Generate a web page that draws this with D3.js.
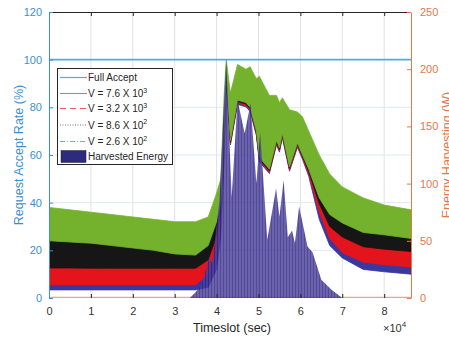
<!DOCTYPE html>
<html>
<head>
<meta charset="utf-8">
<script src="https://cdn.jsdelivr.net/npm/d3@7"></script>
<style>
  body { margin: 0; background: #fff; }
  svg text { font-family: "Liberation Sans", Arial, sans-serif; }
</style>
</head>
<body>
<div id="chart"></div>
<script>
// time grid (x 10^4 sec) shared by the four accept-rate bands
const slots = [0, 0.5, 1, 1.5, 2, 2.5, 3, 3.5, 3.8, 4.0, 4.1, 4.18, 4.23, 4.33, 4.5, 4.7, 4.8, 4.95, 5.02, 5.26, 5.43, 5.5, 5.57, 5.74, 5.93, 6.05, 6.2, 6.45, 6.7, 7.0, 7.5, 8.0, 8.64];

// band edges (%)
const greenHi = [38, 37, 36, 35, 34, 33, 32, 32, 34, 44, 50, 85, 100, 86, 98, 96, 97, 92, 93, 85, 85, 82, 84, 79, 78, 76, 70, 60, 52, 46.6, 42, 39, 37];
const greenLo = [24, 23.5, 23, 22, 21, 20, 18.5, 18, 22, 32, 40, 70, 95, 66, 83, 82, 80, 70, 59, 54, 66, 63, 69, 55, 65, 60, 54, 42, 35, 31.5, 27.5, 26.5, 25];
const blackHi = [24.5, 24, 23.5, 22.5, 21.5, 20.5, 19, 18.5, 22.5, 32.5, 40.5, 70.5, 95.5, 66.5, 83.5, 82.5, 80.5, 70.5, 59.5, 54.5, 66.5, 63.5, 69.5, 55.5, 65.5, 60.5, 54.5, 42.5, 35.5, 32, 28, 27, 25.5];
const blackLo = [12.6, 12.6, 12.5, 12.5, 12.5, 12.5, 12.5, 12.5, 16, 26, 36, 66, 94, 65.4, 82.4, 81.4, 79.4, 69.4, 58.4, 53.4, 65.4, 62.4, 68.4, 54.4, 64.4, 59.4, 53, 39.5, 30, 25.6, 21.5, 20.5, 19.5];
const redHi = [13.1, 13.1, 13, 13, 13, 13, 13, 13, 16.5, 26.5, 36.5, 66.5, 94.5, 65.9, 82.9, 81.9, 79.9, 69.9, 58.9, 53.9, 65.9, 62.9, 68.9, 54.9, 64.9, 59.9, 53.5, 40, 30.5, 26.1, 22, 21, 20];
const redLo = [5.5, 5.5, 5.5, 5.5, 5.5, 5.5, 5.5, 5.5, 10, 20, 31, 62, 93, 64.8, 81.8, 80.8, 78.8, 68.8, 57.8, 52.8, 64.8, 61.8, 67.8, 53.8, 63.8, 58.8, 52, 36, 25, 19, 15, 14, 13];
const blueHi = [6, 6, 6, 6, 6, 6, 6, 6, 10.5, 20.5, 31.5, 62.5, 93.5, 65.3, 82.3, 81.3, 79.3, 69.3, 58.3, 53.3, 65.3, 62.3, 68.3, 54.3, 64.3, 59.3, 52.5, 36.5, 25.5, 19.5, 15.5, 14.5, 13.5];
const blueLo = [3.4, 3.4, 3.4, 3.4, 3.4, 3.4, 3.4, 3.4, 4.5, 12, 26, 58, 92, 64.2, 81.2, 80.2, 78.2, 68.2, 57.2, 52.2, 64.2, 61.2, 67.2, 53.2, 63.2, 58.2, 51, 33, 22, 16.8, 12, 11, 10];

// harvested energy (W)
const energySlots = [0, 3.36, 3.5, 3.65, 3.83, 3.9, 4.07, 4.15, 4.23, 4.36, 4.5, 4.67, 4.81, 4.95, 5.04, 5.21, 5.42, 5.5, 5.6, 5.7, 5.8, 5.87, 5.97, 6.17, 6.29, 6.5, 6.75, 7.0, 8.64];
const energyW = [0, 0, 5, 12, 36, 30, 86, 150, 208, 88, 173, 144, 170, 100, 145, 51, 96, 71, 103, 53, 59, 48, 80, 45, 40, 16, 7, 0, 0];

const fullAccept = 100;
const leftTicks = [0, 20, 40, 60, 80, 100, 120];
const rightTicks = [0, 50, 100, 150, 200, 250];
const xTicks = [0, 1, 2, 3, 4, 5, 6, 7, 8];

const series = [
  { name: "V = 7.6 X 10", exp: "3", hi: blueHi, lo: blueLo, color: "#3a37a0", legend: "#8c8cc4", dash: null },
  { name: "V = 3.2 X 10", exp: "3", hi: redHi, lo: redLo, color: "#e3141c", legend: "#ec5a5e", dash: "6,4" },
  { name: "V = 8.6 X 10", exp: "2", hi: blackHi, lo: blackLo, color: "#161616", legend: "#777", dash: "1,1.5" },
  { name: "V = 2.6 X 10", exp: "2", hi: greenHi, lo: greenLo, color: "#74b22e", legend: "#7cc43a", dash: "5,2,1,2" }
];

const margin = { top: 12, right: 38, bottom: 39, left: 49 };
const totalWidth = 449, totalHeight = 337;
const width = totalWidth - margin.left - margin.right;
const height = totalHeight - margin.top - margin.bottom;

const blue = "#3d8fd2";
const orange = "#e3784a";

const root = d3.select("#chart").append("svg")
  .attr("width", totalWidth)
  .attr("height", totalHeight);

const defs = root.append("defs");
const pat = defs.append("pattern")
  .attr("id", "streaks")
  .attr("patternUnits", "userSpaceOnUse")
  .attr("width", 3).attr("height", 10);
pat.append("rect").attr("width", 3).attr("height", 10).attr("fill", "#4a3f9c");
pat.append("rect").attr("width", 1).attr("height", 10).attr("fill", "#2c2580");

defs.append("clipPath").attr("id", "plotclip")
  .append("rect").attr("width", width).attr("height", height);

const svg = root.append("g")
  .attr("transform", `translate(${margin.left}, ${margin.top})`);

const x = d3.scaleLinear().domain([0, 8.64]).range([0, width]);
const yL = d3.scaleLinear().domain([0, 120]).range([height, 0]);
const yR = d3.scaleLinear().domain([0, 250]).range([height, 0]);

// grid
svg.append("g").selectAll("line").data(xTicks.slice(1)).enter().append("line")
  .attr("x1", d => x(d)).attr("x2", d => x(d))
  .attr("y1", 0).attr("y2", height)
  .attr("stroke", "#e2e2e2").attr("stroke-width", 1);
svg.append("g").selectAll("line").data(leftTicks.slice(1, -1)).enter().append("line")
  .attr("x1", 0).attr("x2", width)
  .attr("y1", d => yL(d)).attr("y2", d => yL(d))
  .attr("stroke", "#dce9f5").attr("stroke-width", 1);

const plot = svg.append("g").attr("clip-path", "url(#plotclip)");

// accept-rate bands
series.forEach(s => {
  const area = d3.area()
    .x((d, i) => x(slots[i]))
    .y0((d, i) => yL(s.lo[i]))
    .y1((d, i) => yL(s.hi[i]));
  plot.append("path")
    .datum(slots)
    .attr("d", area)
    .attr("fill", s.color)
    .attr("stroke", s.color)
    .attr("stroke-width", 0.8);
});

// energy baseline
plot.append("line")
  .attr("x1", 0).attr("x2", width)
  .attr("y1", yR(0) - 0.5).attr("y2", yR(0) - 0.5)
  .attr("stroke", "#f0a582").attr("stroke-width", 1.5);

// harvested energy
const energyArea = d3.area()
  .x((d, i) => x(energySlots[i]))
  .y0(yR(0))
  .y1((d, i) => yR(energyW[i]));
plot.append("path")
  .datum(energySlots)
  .attr("d", energyArea)
  .attr("fill", "url(#streaks)")
  .attr("opacity", 0.82);

// full accept
plot.append("line")
  .attr("x1", 0).attr("x2", width)
  .attr("y1", yL(fullAccept)).attr("y2", yL(fullAccept))
  .attr("stroke", "#5ea6de").attr("stroke-width", 1.6);

// axes
const xAxis = svg.append("g")
  .attr("transform", `translate(0, ${height})`)
  .call(d3.axisBottom(x).tickValues(xTicks).tickSize(-4).tickPadding(9).tickFormat(d3.format("d")));
xAxis.select(".domain").remove();
xAxis.selectAll("line").attr("stroke", "#262626");
xAxis.selectAll("text").attr("fill", "#333").style("font-size", "11px");

const xTop = svg.append("g")
  .call(d3.axisTop(x).tickValues(xTicks).tickSize(-4).tickFormat(""));
xTop.select(".domain").remove();
xTop.selectAll("line").attr("stroke", "#262626");
svg.append("line").attr("x1", 0).attr("x2", width).attr("y1", 0.5).attr("y2", 0.5)
  .attr("stroke", "#262626").attr("stroke-width", 1);

const leftAxis = svg.append("g")
  .call(d3.axisLeft(yL).tickValues(leftTicks).tickSize(-4).tickPadding(7).tickSizeOuter(0));
leftAxis.select(".domain").attr("stroke", blue);
leftAxis.selectAll("line").attr("stroke", blue);
leftAxis.selectAll("text").attr("fill", blue).style("font-size", "11px");

const rightAxis = svg.append("g")
  .attr("transform", `translate(${width}, 0)`)
  .call(d3.axisRight(yR).tickValues(rightTicks).tickSize(-4).tickPadding(9).tickSizeOuter(0));
rightAxis.select(".domain").attr("stroke", orange);
rightAxis.selectAll("line").attr("stroke", orange);
rightAxis.selectAll("text").attr("fill", orange).style("font-size", "11px");

// labels
svg.append("text")
  .attr("x", width / 2 + 2).attr("y", height + 34)
  .attr("text-anchor", "middle")
  .attr("fill", "#262626").style("font-size", "12.5px")
  .text("Timeslot (sec)");

const mult = svg.append("text")
  .attr("x", width - 28).attr("y", height + 34)
  .attr("fill", "#333").style("font-size", "11px");
mult.append("tspan").text("\u00d710");
mult.append("tspan").attr("dy", -5).style("font-size", "8px").text("4");

svg.append("text")
  .attr("transform", `translate(-26, ${height / 2}) rotate(-90)`)
  .attr("text-anchor", "middle")
  .attr("fill", blue).style("font-size", "12.5px")
  .text("Request Accept Rate (%)");

// right label sits partly past the edge, as in the source figure
svg.append("text")
  .attr("transform", `translate(${width + 40}, ${height / 2}) rotate(-90)`)
  .attr("text-anchor", "middle")
  .attr("fill", orange).style("font-size", "12.5px")
  .text("Energy Harvesting (W)");

// legend
const lg = svg.append("g").attr("transform", "translate(8, 56)");
lg.append("rect")
  .attr("x", 0.5).attr("y", 0.5).attr("width", 115).attr("height", 96)
  .attr("fill", "#fff").attr("stroke", "#262626").attr("stroke-width", 1);

const rowY = [9.5, 25.5, 40.5, 57, 73.5, 88.5];
lg.append("line").attr("x1", 3).attr("x2", 30).attr("y1", rowY[0]).attr("y2", rowY[0])
  .attr("stroke", "#5ea6de").attr("stroke-width", 1.2);
lg.append("text").attr("x", 31).attr("y", rowY[0] + 3.5).style("font-size", "10px").attr("fill", "#262626").text("Full Accept");

series.forEach((s, i) => {
  const yy = rowY[i + 1];
  lg.append("line").attr("x1", 3).attr("x2", 30).attr("y1", yy).attr("y2", yy)
    .attr("stroke", s.legend).attr("stroke-width", 1.1)
    .attr("stroke-dasharray", s.dash);
  const t = lg.append("text").attr("x", 31).attr("y", yy + 3.5)
    .style("font-size", "10px").attr("fill", "#262626");
  t.append("tspan").text(s.name);
  t.append("tspan").attr("dy", -4.5).style("font-size", "7px").text(s.exp);
});

lg.append("rect").attr("x", 4).attr("y", rowY[5] - 6).attr("width", 25).attr("height", 12)
  .attr("fill", "#2e2a80").attr("stroke", "#222").attr("stroke-width", 0.5);
lg.append("text").attr("x", 31).attr("y", rowY[5] + 3.5).style("font-size", "10px").attr("fill", "#262626").text("Harvested Energy");
</script>
</body>
</html>
